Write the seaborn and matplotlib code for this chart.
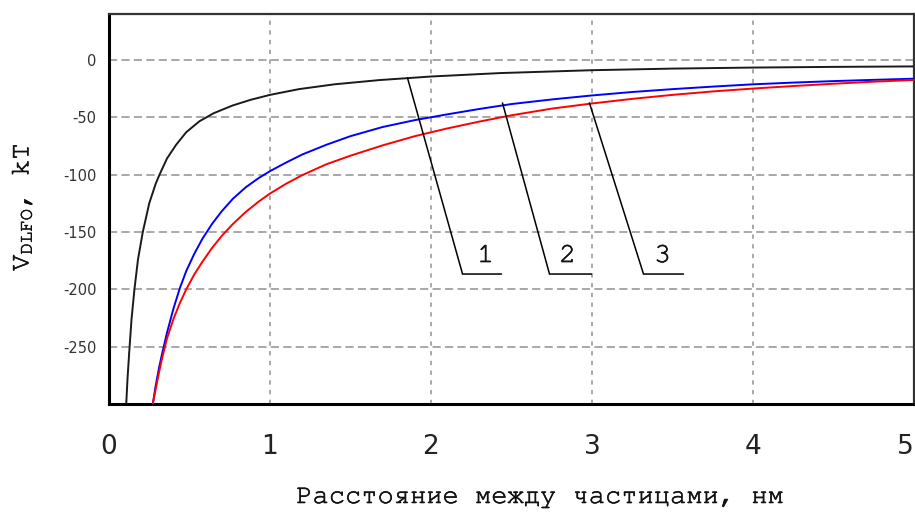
import matplotlib
matplotlib.use("Agg")
import matplotlib.pyplot as plt
import matplotlib.patheffects as pe
import numpy as np
import pandas as pd
import seaborn as sns
from matplotlib.ticker import MultipleLocator

# Interaction energy V_DLFO (kT) versus separation (nm) for three systems
dist_1 = [0.107, 0.115, 0.125, 0.14, 0.158, 0.18, 0.21, 0.25, 0.29, 0.314,
          0.36, 0.417, 0.48, 0.562, 0.65, 0.767, 0.88, 1.0, 1.18, 1.4, 1.68,
          2.0, 2.43, 3.0, 3.5, 4.0, 4.5, 5.0]
v_1 = [-300, -278, -256, -226, -200, -174, -150, -125, -108, -100,
       -86, -74, -63, -53.5, -46.5, -39.8, -34.8, -30.5, -25.5, -21.3, -17.6,
       -14.5, -11.5, -9.0, -7.6, -6.7, -6.1, -5.7]

dist_2 = [0.272, 0.29, 0.31, 0.33, 0.36, 0.40, 0.44, 0.48, 0.53, 0.58, 0.64,
          0.70, 0.77, 0.85, 0.93, 1.0, 1.1, 1.2, 1.35, 1.5, 1.7, 1.9, 2.1,
          2.3, 2.5, 2.75, 3.0, 3.25, 3.5, 3.75, 4.0, 4.25, 4.5, 4.75, 5.0]
v_2 = [-300, -284, -269, -256, -238, -217, -199, -184, -169, -156, -143,
       -132, -121, -111, -103, -97, -89.5, -82.5, -74, -66.5, -58.5, -52.5,
       -47.5, -42.8, -38.5, -34.5, -31, -28, -25.5, -23.3, -21.3, -19.8,
       -18.5, -17.4, -16.4]

dist_3 = [0.272, 0.29, 0.31, 0.33, 0.36, 0.40, 0.44, 0.48, 0.53, 0.58, 0.64,
          0.70, 0.77, 0.85, 0.93, 1.0, 1.1, 1.2, 1.35, 1.5, 1.7, 1.9, 2.1,
          2.3, 2.5, 2.75, 3.0, 3.25, 3.5, 3.75, 4.0, 4.25, 4.5, 4.75, 5.0]
v_3 = [-300, -287, -273, -260, -243, -226, -212, -200, -187, -176, -164,
       -153.5, -143, -132.5, -123.5, -116.5, -108, -100.5, -91, -83.5, -74.5,
       -66.5, -59.8, -53.8, -48.3, -42.5, -38, -34, -30.5, -27.5, -25, -22.8,
       -20.8, -19, -17.5]

x_ticks = [0, 1, 2, 3, 4, 5]
y_ticks = [0, -50, -100, -150, -200, -250]
curve_labels = ["1", "2", "3"]
curve_colors = ["#1a1a1a", "#0000ff", "#ff0000"]

frames = []
for name, xs, ys in zip(curve_labels, [dist_1, dist_2, dist_3], [v_1, v_2, v_3]):
    frames.append(pd.DataFrame({"dist": xs, "v": ys, "curve": name}))
data = pd.concat(frames, ignore_index=True)

sns.set_style("white")
mono = ["FreeMono", "DejaVu Sans"]
plt.rcParams["axes.unicode_minus"] = False
plt.rcParams["mathtext.fontset"] = "custom"
plt.rcParams["mathtext.rm"] = "FreeMono"
plt.rcParams["mathtext.it"] = "FreeMono"

# slightly heavier strokes for the typewriter-style captions
heavy = [pe.withStroke(linewidth=0.4, foreground="#111111")]

fig = plt.figure(figsize=(9.15, 5.12), dpi=100)
fig.patch.set_facecolor("white")
ax = fig.add_axes([109 / 915, 1 - 404 / 512, (914 - 109) / 915, (404 - 14) / 512])

sns.lineplot(data=data, x="dist", y="v", hue="curve", palette=curve_colors,
             estimator=None, sort=False, linewidth=1.4, legend=False, ax=ax,
             zorder=3)

ax.set_xlim(0, 5)
ax.set_ylim(-300, 40)

ax.set_xticks(x_ticks)
ax.set_xticklabels([str(t) for t in x_ticks], fontsize=19, color="#222222")
ax.get_xticklabels()[-1].set_horizontalalignment("right")
ax.set_yticks(y_ticks)
ax.set_yticklabels([str(t) for t in y_ticks], fontsize=10.5, color="#333333")
ax.xaxis.set_minor_locator(MultipleLocator(0.25))
ax.yaxis.set_minor_locator(MultipleLocator(25))
ax.tick_params(axis="x", which="major", direction="out", length=5, width=1.2,
               color="#aaaaaa", pad=16.5)
ax.tick_params(axis="x", which="minor", direction="out", length=3, width=1.0,
               color="#aaaaaa")
ax.tick_params(axis="y", which="major", direction="out", length=3, width=1.2,
               color="#aaaaaa", pad=6)
ax.tick_params(axis="y", which="minor", direction="out", length=3, width=1.0,
               color="#aaaaaa")

ax.grid(axis="y", which="major", color="#a8a8a8", linewidth=1.4,
        linestyle=(0, (4.2, 2.2)), zorder=0)
ax.grid(axis="x", which="major", color="#a8a8a8", linewidth=1.4,
        linestyle=(0, (2.2, 2.8)), zorder=0)

for side in ["left", "bottom"]:
    ax.spines[side].set_color("black")
    ax.spines[side].set_linewidth(2.2)
for side in ["top", "right"]:
    ax.spines[side].set_color("#333333")
    ax.spines[side].set_linewidth(1.6)
    ax.spines[side].set_visible(True)

ax.set_xlabel("")
ax.set_ylabel("")

# leader lines from each curve to its number
leaders = [
    ((1.854, -15.7), (2.196, -186.7), (2.438, -186.7), (2.339, -171)),
    ((2.444, -37.5), (2.736, -186.7), (2.997, -186.7), (2.848, -171)),
    ((2.984, -37.5), (3.320, -186.7), (3.568, -186.7), (3.438, -171)),
]
for label, (start, elbow, end, text_pos) in zip(curve_labels, leaders):
    ax.plot([start[0], elbow[0], end[0]], [start[1], elbow[1], end[1]],
            color="black", linewidth=1.1, zorder=4, solid_joinstyle="miter")
    ax.text(text_pos[0], text_pos[1], label, fontsize=20, family=mono,
            ha="center", va="center", color="#111111", zorder=5,
            path_effects=heavy)

fig.text(540 / 915, 1 - 497 / 512, "Расстояние между частицами, нм",
         fontsize=19.5, family=mono, ha="center", va="center", color="#111111",
         path_effects=heavy)
fig.text(22 / 915, 1 - 207 / 512, r"$\mathrm{V_{DLFO}}$, kT",
         fontsize=19.5, family=mono, rotation=90, ha="center", va="center",
         color="#111111", path_effects=heavy)

fig.savefig("out.png", dpi=100, facecolor="white")
